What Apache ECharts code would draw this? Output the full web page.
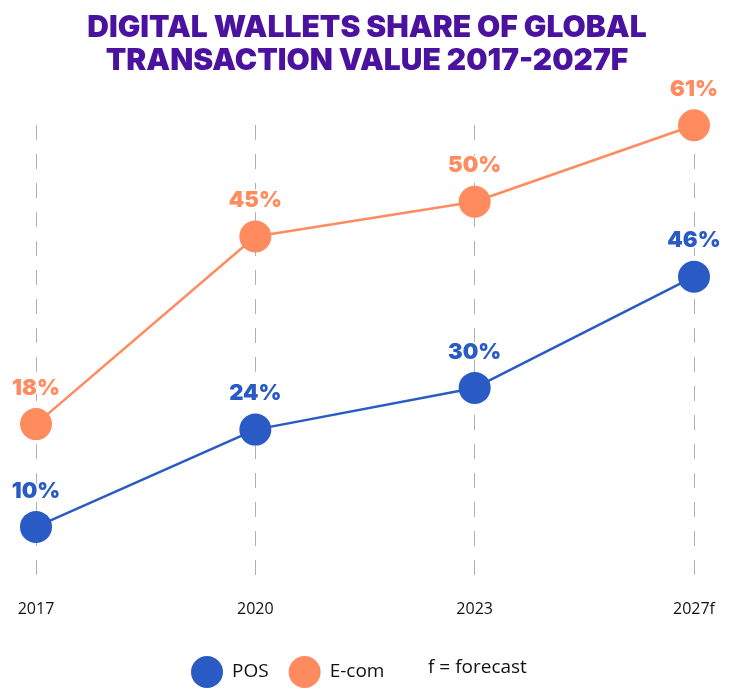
<!DOCTYPE html>
<html>
<head>
<meta charset="utf-8">
<script src="https://cdn.jsdelivr.net/npm/echarts@6/dist/echarts.min.js"></script>
<style>
html,body{margin:0;padding:0;background:#fff;}
#chart{width:734px;height:694px;}
</style>
</head>
<body>
<div id="chart"></div>
<script>
var categories = ['2017', '2020', '2023', '2027f'];
var posValues = [10, 24, 30, 46];
var ecomValues = [18, 45, 50, 61];
var titleLines = ['DIGITAL WALLETS SHARE OF GLOBAL', 'TRANSACTION VALUE 2017-2027F'];
var footnote = 'f = forecast';

var POS_COLOR = '#2a5bc4';
var ECOM_COLOR = '#ff8b5f';

var chart = echarts.init(document.getElementById('chart'));

function labelStyle(color) {
  return {
    show: true,
    position: 'top',
    distance: 9,
    formatter: '{c}%',
    color: color,
    fontFamily: 'Inter',
    fontWeight: 900,
    fontSize: 22,
    textBorderColor: '#fff',
    textBorderWidth: 3
  };
}

chart.setOption({
  animation: false,
  backgroundColor: '#fff',
  title: {
    text: titleLines.join('\n'),
    left: 'center',
    top: 6,
    textStyle: {
      color: '#4b129f',
      fontFamily: 'Inter',
      fontWeight: 900,
      fontSize: 30,
      lineHeight: 33
    }
  },
  legend: {
    left: 186,
    top: 651,
    icon: 'circle',
    itemWidth: 32,
    itemHeight: 32,
    itemGap: 20,
    textStyle: { fontFamily: 'Open Sans', fontSize: 19, color: '#111', padding: [0, 0, 0, 4] },
    data: ['POS', 'E-com']
  },
  graphic: [{
    type: 'text',
    left: 428,
    top: 658,
    style: { text: footnote, fontFamily: 'Open Sans', fontSize: 19, fill: '#111' }
  }],
  grid: { left: 36, right: 40, top: 125, bottom: 114 },
  xAxis: {
    type: 'category',
    data: categories,
    boundaryGap: false,
    axisLine: { show: false },
    axisTick: { show: false },
    axisLabel: { color: '#111', fontFamily: 'Open Sans', fontSize: 16, margin: 21 },
    splitLine: { show: true, lineStyle: { color: '#b0b0b0', width: 1, type: [15, 14] } }
  },
  yAxis: [
    { type: 'value', min: 2.36, max: 67.83, show: false, splitLine: { show: false } },
    { type: 'value', min: -4.43, max: 61.04, show: false, splitLine: { show: false } }
  ],
  series: [
    {
      name: 'POS',
      type: 'line',
      yAxisIndex: 0,
      data: posValues,
      color: POS_COLOR,
      symbol: 'circle',
      symbolSize: 32,
      clip: false,
      lineStyle: { width: 2.5, color: POS_COLOR },
      itemStyle: { color: POS_COLOR },
      label: labelStyle(POS_COLOR),
      z: 3
    },
    {
      name: 'E-com',
      type: 'line',
      yAxisIndex: 1,
      data: ecomValues,
      color: ECOM_COLOR,
      symbol: 'circle',
      symbolSize: 32,
      clip: false,
      lineStyle: { width: 2.5, color: ECOM_COLOR },
      itemStyle: { color: ECOM_COLOR },
      label: labelStyle(ECOM_COLOR),
      z: 3
    }
  ]
});
</script>
</body>
</html>
